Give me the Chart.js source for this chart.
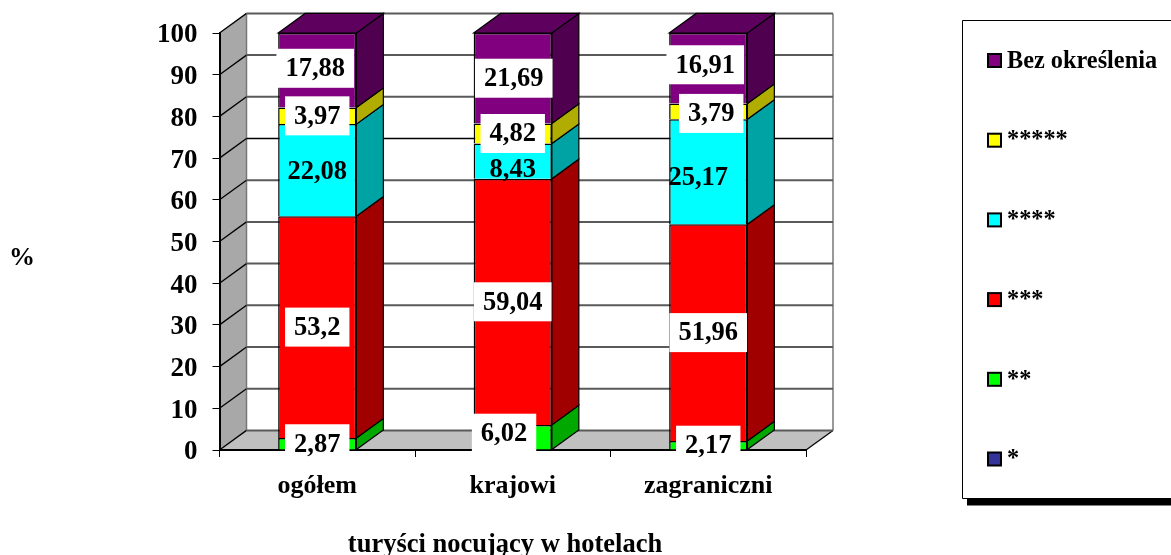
<!DOCTYPE html>
<html><head><meta charset="utf-8">
<style>html,body{margin:0;padding:0;background:#fff}canvas{display:block}</style>
<script src="https://cdn.jsdelivr.net/npm/chart.js@4"></script>
</head><body><canvas id="c" width="1171" height="555"></canvas>
<script>
const categories = ['ogółem', 'krajowi', 'zagraniczni'];
const seriesNames = ['*', '**', '***', '****', '*****', 'Bez określenia'];
const star1 = [0, 0, 0];
const star2 = [2.87, 6.02, 2.17];
const star3 = [53.2, 59.04, 51.96];
const star4 = [22.08, 8.43, 25.17];
const star5 = [3.97, 4.82, 3.79];
const none  = [17.88, 21.69, 16.91];
const yTicks = [0,10,20,30,40,50,60,70,80,90,100];
const frontColors = ['#333399','#00FF00','#FF0000','#00FFFF','#FFFF00','#800080'];
const sideColors  = ['#1f1f5c','#00A800','#A00000','#00A3A3','#B0AC00','#4F004F'];
const topColor = '#5E005E';
const xTitle = 'turyści nocujący w hotelach';
const yTitle = '%';

const FONT = '"Liberation Serif"';
const DX = 27, DY = 19.6;
// small hand nudges of label boxes relative to the segment middle [series][category]
const labelNudgeX = {1:[0,-8.7,0],2:[0,0,0],3:[0,0,-10],4:[0,0,3],5:[-2,1,-3]};
const labelNudgeY = {1:[0,-4,0],3:[1,8,5],4:[0,0,2],5:[-2,0,-3.5]};
const labelBoxed = {1:true,2:true,3:false,4:true,5:true};

const threeD = {
  id:'threeD',
  beforeDraw(chart){
    const {ctx,chartArea:a,scales:{y}} = chart;
    ctx.save();
    ctx.fillStyle='#fff'; ctx.fillRect(0,0,chart.width,chart.height);
    // left wall
    ctx.fillStyle='#A8A8A8';
    ctx.beginPath();ctx.moveTo(a.left,a.top);ctx.lineTo(a.left+DX,a.top-DY);ctx.lineTo(a.left+DX,a.bottom-DY);ctx.lineTo(a.left,a.bottom);ctx.closePath();ctx.fill();
    // floor
    ctx.fillStyle='#C0C0C0';
    ctx.beginPath();ctx.moveTo(a.left,a.bottom);ctx.lineTo(a.left+DX,a.bottom-DY);ctx.lineTo(a.right+DX,a.bottom-DY);ctx.lineTo(a.right,a.bottom);ctx.closePath();ctx.fill();
    // wall borders
    ctx.strokeStyle='#777';ctx.lineWidth=1.5;
    ctx.beginPath();ctx.moveTo(a.left+DX,a.top-DY);ctx.lineTo(a.left+DX,a.bottom-DY);ctx.stroke();
    ctx.beginPath();ctx.moveTo(a.right+DX,a.top-DY);ctx.lineTo(a.right+DX,a.bottom-DY);ctx.stroke();
    ctx.strokeStyle='#000';ctx.lineWidth=1.2;ctx.beginPath();ctx.moveTo(a.right+DX,a.bottom-DY);ctx.lineTo(a.right,a.bottom);ctx.stroke();
    // grid lines on the walls
    yTicks.forEach(v=>{
      const py=y.getPixelForValue(v);
      ctx.lineWidth=1.3; ctx.strokeStyle='#000';
      ctx.beginPath();ctx.moveTo(a.left,py);ctx.lineTo(a.left+DX,py-DY);ctx.stroke();
      const sharp=(v===70);
      ctx.lineWidth=sharp?1.5:2; ctx.strokeStyle=sharp?'#000':'#5a5a5a';
      ctx.beginPath();ctx.moveTo(a.left+DX,py-DY);ctx.lineTo(a.right+DX,py-DY);ctx.stroke();
    });
    ctx.restore();
  },
  beforeDatasetsDraw(chart){
    const {ctx} = chart;
    ctx.save();
    ctx.strokeStyle='#000';ctx.lineWidth=1.2;ctx.lineJoin='miter';
    chart.data.datasets.forEach((ds,i)=>{
      chart.getDatasetMeta(i).data.forEach((bar,j)=>{
        if(!ds.data[j]) return;
        const p=bar.getProps(['x','y','base','width'],true);
        const r=p.x+p.width/2,l=p.x-p.width/2;
        ctx.fillStyle=ds.sideColor;
        ctx.beginPath();ctx.moveTo(r,p.y);ctx.lineTo(r+DX,p.y-DY);ctx.lineTo(r+DX,p.base-DY);ctx.lineTo(r,p.base);ctx.closePath();ctx.fill();ctx.stroke();
        if(i===chart.data.datasets.length-1){
          ctx.fillStyle=topColor;
          ctx.beginPath();ctx.moveTo(l,p.y);ctx.lineTo(l+DX,p.y-DY);ctx.lineTo(r+DX,p.y-DY);ctx.lineTo(r,p.y);ctx.closePath();ctx.fill();ctx.stroke();
        }
      });
    });
    ctx.restore();
  },
  afterDatasetsDraw(chart){
    const {ctx} = chart;
    ctx.save();
    ctx.font='bold 26.5px '+FONT;ctx.textAlign='center';ctx.textBaseline='middle';
    chart.data.datasets.forEach((ds,i)=>{
      chart.getDatasetMeta(i).data.forEach((bar,j)=>{
        if(!ds.data[j]) return;
        const p=bar.getProps(['x','y','base'],true);
        const txt=String(ds.data[j]).replace('.',',');
        const cx=p.x+(labelNudgeX[i]?labelNudgeX[i][j]:0);
        const cy=(p.y+p.base)/2+(labelNudgeY[i]?labelNudgeY[i][j]:0);
        const w=ctx.measureText(txt).width+18;
        if(labelBoxed[i]){ctx.fillStyle='#fff';ctx.fillRect(cx-w/2,cy-19.5,w,39);}
        ctx.fillStyle='#000';ctx.fillText(txt,cx,cy+1);
      });
    });
    // axis titles
    ctx.font='bold 26px '+FONT;
    ctx.fillText(yTitle,22,258);
    ctx.font='bold 26.5px '+FONT;
    ctx.fillText(xTitle,505,545);
    // legend
    const bx=962.5,by=20.5,bb=498.5;
    ctx.fillStyle='#000';ctx.fillRect(967,bb,chart.width-967,7);
    ctx.strokeStyle='#000';ctx.lineWidth=1;
    ctx.beginPath();ctx.moveTo(chart.width,by);ctx.lineTo(bx,by);ctx.lineTo(bx,bb);ctx.lineTo(chart.width,bb);ctx.stroke();
    const rev=[...chart.data.datasets].reverse();
    ctx.textAlign='left';ctx.textBaseline='middle';
    rev.forEach((ds,k)=>{
      const cy=60.5+k*79.7;
      ctx.fillStyle=ds.backgroundColor;ctx.fillRect(988,cy-6.5,13,13);
      ctx.strokeStyle='#000';ctx.lineWidth=2;ctx.strokeRect(988,cy-6.5,13,13);
      ctx.fillStyle='#000';ctx.font='bold 24.3px '+FONT;
      ctx.fillText(ds.label,1007,cy+1);
    });
    ctx.restore();
  }
};

const arrays=[star1,star2,star3,star4,star5,none];
new Chart(document.getElementById('c'),{
  type:'bar',
  data:{labels:categories,datasets:seriesNames.map((n,i)=>({
    label:n,data:arrays[i],backgroundColor:frontColors[i],sideColor:sideColors[i],
    borderColor:'#000',borderWidth:1.5,barPercentage:0.4,categoryPercentage:1
  }))},
  plugins:[threeD],
  options:{
    responsive:false,animation:false,
    layout:{padding:{left:0,top:33,right:365,bottom:0}},
    plugins:{legend:{display:false},tooltip:{enabled:false}},
    scales:{
      x:{stacked:true,
        afterFit(s){s.height=105;},
        grid:{drawOnChartArea:false,drawTicks:true,tickLength:7,tickColor:'#000',offset:true},
        border:{display:true,color:'#000',width:2},
        ticks:{color:'#000',font:{family:FONT,weight:'bold',size:26},padding:14,maxRotation:0}
      },
      y:{stacked:true,min:0,max:100,
        afterFit(s){s.width=219.5;},
        grid:{drawOnChartArea:false,drawTicks:true,tickLength:7,tickColor:'#000'},
        border:{display:true,color:'#000',width:2},
        ticks:{color:'#000',stepSize:10,font:{family:FONT,weight:'bold',size:27},padding:15,labelOffset:2.5}
      }
    }
  }
});
</script></body></html>
